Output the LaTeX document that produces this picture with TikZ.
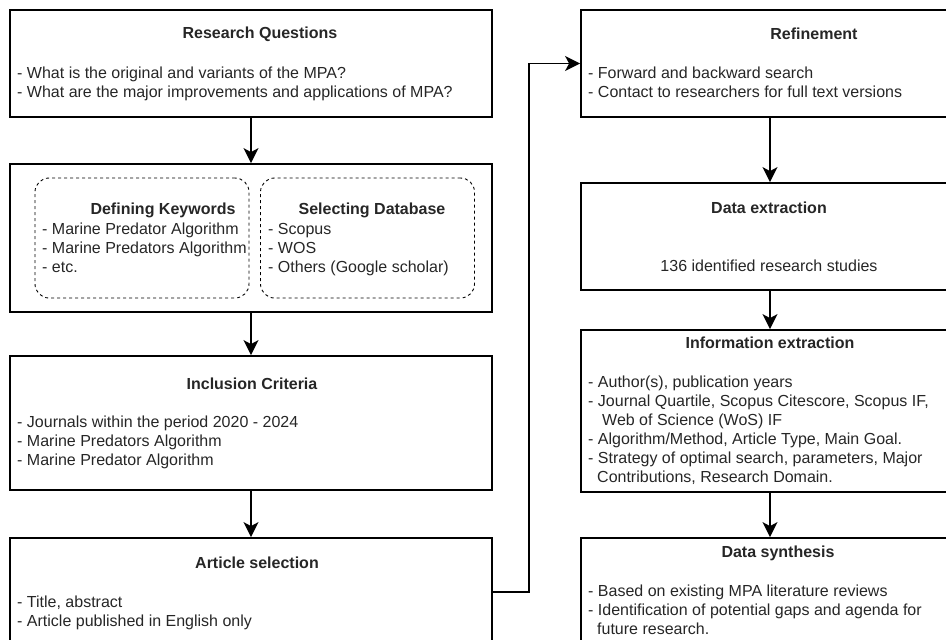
\documentclass[tikz,border=0pt]{standalone}
\usepackage{fontspec}
\setmainfont{Liberation Sans}
\usetikzlibrary{positioning,arrows.meta}

\begin{document}
\begin{tikzpicture}[x=1pt,y=-1pt]
	\tikzstyle{every node}=[font=\fontsize{16}{19}\selectfont, text=black!85]
	\tikzstyle{box}=[draw, line width=1.8pt, minimum width=482pt, inner sep=0pt]
	\tikzstyle{dbox}=[draw, dash pattern=on 3pt off 3pt, line width=0.9pt, rounded corners=14pt, minimum width=214pt, minimum height=120pt, inner sep=0pt]
	\tikzstyle{head}=[font=\fontsize{16}{19}\selectfont\bfseries]
	\tikzstyle{body}=[anchor=north west, align=left, inner sep=0pt]
	\tikzstyle{flow}=[line width=1.8pt, -{Stealth[length=15pt,width=15pt,inset=4pt]}]
	\clip (0,0) rectangle (946,640);

	% left column
	\draw (251,63.5) node (rq) [box, minimum height=107pt] {};
	\draw (251,238) node (kw) [box, minimum height=148pt] {};
	\draw (142,238) node (dk) [dbox] {};
	\draw (367.5,238) node (sd) [dbox] {};
	\draw (251,423) node (ic) [box, minimum height=134pt] {};
	\draw (251,592) node (as) [box, minimum height=108pt] {};

	% right column
	\draw (770,63.5) node (rf) [box, minimum width=378pt, minimum height=107pt] {};
	\draw (770,236.5) node (de) [box, minimum width=378pt, minimum height=107pt] {};
	\draw (770,411) node (ie) [box, minimum width=378pt, minimum height=162pt] {};
	\draw (770,609) node (ds) [box, minimum width=378pt, minimum height=142pt] {};

	% texts
	\draw (260,34) node (rqh) [head] {Research Questions};
	\draw (17,67) node (rqb) [body] {- What is the original and variants of the MPA?\\- What are the major improvements and applications of MPA?};
	\draw (163,210) node (dkh) [head] {Defining Keywords};
	\draw (42,223) node (dkb) [body] {- Marine Predator Algorithm\\- Marine Predators Algorithm\\- etc.};
	\draw (372,210) node (sdh) [head] {Selecting Database};
	\draw (268,223) node (sdb) [body] {- Scopus\\- WOS\\- Others (Google scholar)};
	\draw (252,384) node (ich) [head] {Inclusion Criteria};
	\draw (17,416) node (icb) [body] {- Journals within the period 2020 - 2024\\- Marine Predators Algorithm\\- Marine Predator Algorithm};
	\draw (257,563) node (ash) [head] {Article selection};
	\draw (17,596) node (asb) [body] {- Title, abstract\\- Article published in English only};

	\draw (814,34) node (rfh) [head] {Refinement};
	\draw (588,67) node (rfb) [body] {- Forward and backward search\\- Contact to researchers for full text versions};
	\draw (769,208) node (deh) [head] {Data extraction};
	\draw (769,266) node (deb) {136 identified research studies};
	\draw (770,343) node (ieh) [head] {Information extraction};
	\draw (588,376) node (ieb) [body] {- Author(s), publication years\\- Journal Quartile, Scopus Citescore, Scopus IF,\\\hspace*{14pt}Web of Science (WoS) IF\\- Algorithm/Method, Article Type, Main Goal.\\- Strategy of optimal search, parameters, Major\\\hspace*{9pt}Contributions, Research Domain.};
	\draw (778,553) node (dsh) [head] {Data synthesis};
	\draw (588,585) node (dsb) [body] {- Based on existing MPA literature reviews\\- Identification of potential gaps and agenda for\\\hspace*{9pt}future research.};

	% connectors
	\draw [flow] (rq.south) -- (kw.north);
	\draw [flow] (kw.south) -- (ic.north);
	\draw [flow] (ic.south) -- (as.north);
	\draw [flow] (as.east) -- ++(36,0) |- (rf.west);
	\draw [flow] (rf.south) -- (de.north);
	\draw [flow] (de.south) -- (ie.north);
	\draw [flow] (ie.south) -- (ds.north);
\end{tikzpicture}
\end{document}
